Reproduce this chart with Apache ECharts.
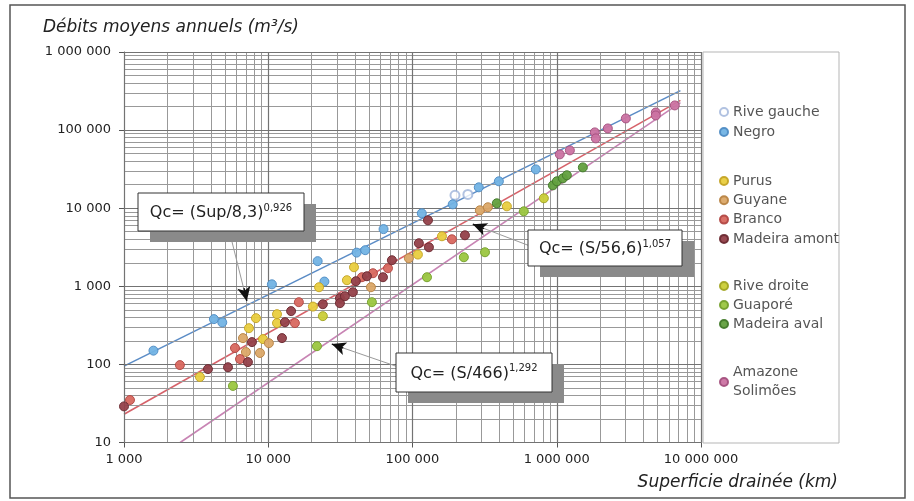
<!DOCTYPE html>
<html><head><meta charset="utf-8">
<script src="https://cdn.jsdelivr.net/npm/echarts@6/dist/echarts.min.js"></script>
<style>html,body{margin:0;padding:0;background:#fff}#c{width:914px;height:501px}</style>
</head><body><div id="c"></div>
<script>
// ---- Data (surface drained km², mean annual discharge m³/s) ----
const riveGauche = [[197000,14600],[242000,15000]];
const negro = [[1600,150],[4200,380],[4800,345],[10600,1060],[22000,2100],[24500,1150],[41000,2700],[47000,2900],[63000,5400],[116000,8600],[190000,11200],[288000,18500],[397000,22100],[716000,31400]];
const purus = [[3360,69],[7350,291],[8220,391],[9190,211],[11500,440],[11500,338],[20400,550],[22500,973],[35100,1197],[39300,1755],[109000,2550],[160000,4370],[451000,10570]];
const guyane = [[6680,217],[7000,144],[8760,140],[10100,187],[51500,973],[94400,2290],[293000,9400],[333000,10280]];
const branco = [[1100,35],[2440,98],[5880,162],[6370,117],[15300,338],[16300,626],[44600,1307],[53200,1470],[67600,1703],[187500,4000]];
const madeiraAmont = [[1000,29],[3820,87],[5260,92],[7230,107],[7710,193],[12450,217],[13050,347],[14400,481],[23900,590],[31400,704],[31400,608],[34000,747],[38600,841],[40500,1162],[48300,1346],[62400,1307],[72000,2157],[110700,3560],[130000,3160],[128000,7000],[231000,4500]];
const riveDroite = [[23900,415],[814000,13400]];
const guapore = [[5690,53],[21750,171],[52300,626],[126000,1307],[227000,2355],[318000,2730],[591000,9120]];
const madeiraAval = [[384000,11550],[940000,19600],[1002000,22100],[1102000,24100],[1175000,26400],[1517000,33300]];
const amazone = [[1050000,48900],[1233000,55000],[1836000,93500],[1866000,78300],[2260000,105000],[3013000,141000],[4860000,168000],[4860000,154000],[6580000,207000]];

// regression lines (end points)
const fitNegro = [[1000,95],[7200000,320000]];
const fitMain = [[1000,23],[7200000,240000]];
const fitDroite = [[2450,10],[7200000,225000]];

// axis ranges / ticks
const xDecades = [1000,10000,100000,1000000,10000000];
const yDecades = [10,100,1000,10000,100000,1000000];
const gridMultiples = [2,3,4,5,6,7,8,9];

// annotation texts
const formulas = [
  {main:'Qc= (Sup/8,3)', exp:'0,926'},
  {main:'Qc= (S/56,6)', exp:'1,057'},
  {main:'Qc= (S/466)', exp:'1,292'}
];
// arrow leader lines [start, near tip, tip] in data units
const arrows = [
  [[5400,4900],[6790,946],[7100,650]],
  [[631000,3360],[313000,5480],[262000,6230]],
  [[76700,95],[33100,162],[27600,182]]
];

const F = "'DejaVu Sans', 'Liberation Sans', sans-serif";
const fmt = v => String(Math.round(v)).replace(/\B(?=(\d{3})+(?!\d))/g, ' ');

const minorX = [], minorY = [];
xDecades.slice(0,-1).forEach(d => gridMultiples.forEach(m => minorX.push(d*m)));
yDecades.slice(0,-1).forEach(d => gridMultiples.forEach(m => minorY.push(d*m)));

function pts(name, data, color, border, symbol) {
  const s = {type:'scatter', name, data, symbol: symbol || 'circle', symbolSize: 9, z: 5,
    itemStyle: {color, borderColor: border, borderWidth: 1, opacity: 0.95}};
  if (symbol === 'emptyCircle') s.itemStyle = {color, borderWidth: 1.4};
  return s;
}
function fit(name, data, color) {
  return {type:'line', name, data, showSymbol:false, symbol:'none', z:4, silent:true,
    lineStyle:{color, width:1.6}};
}

const legendBase = {orient:'vertical', left:714, itemWidth:8, itemHeight:8, itemGap:4, selectedMode:false,
  textStyle:{fontFamily:F, fontSize:14, color:'#555', lineHeight:16}};

function box(x, y, w, h, f) {
  return {type:'group', z:50, children:[
    {type:'rect', shape:{x:x+12, y:y+11, width:w, height:h}, style:{fill:'#8a8a8a'}, z:50},
    {type:'rect', shape:{x:x, y:y, width:w, height:h}, style:{fill:'#fff', stroke:'#333', lineWidth:1}, z:51},
    {type:'text', x:x+w/2, y:y+h/2+1, z:52, style:{text:'{m|'+f.main+'}{s|'+f.exp+'}', align:'center', verticalAlign:'middle',
      rich:{m:{fontFamily:F, fontSize:16, lineHeight:20, fill:'#222'}, s:{fontFamily:F, fontSize:10, lineHeight:12, verticalAlign:'top', fill:'#222'}}}}
  ]};
}

const chart = echarts.init(document.getElementById('c'), null, {renderer:'canvas'});
chart.setOption({
  animation:false,
  backgroundColor:'#fff',
  grid:{left:124, top:52, width:577, height:390.5, containLabel:false},
  xAxis:{type:'log', logBase:10, min:1000, max:10000000,
    axisLine:{show:true, lineStyle:{color:'#555', width:1}},
    axisTick:{show:true, length:5, lineStyle:{color:'#555'}},
    splitLine:{show:false}, minorTick:{show:false},
    axisLabel:{formatter:fmt, fontFamily:F, fontSize:13, color:'#222', margin:11}},
  yAxis:{type:'log', logBase:10, min:10, max:1000000,
    axisLine:{show:true, lineStyle:{color:'#555', width:1}},
    axisTick:{show:true, length:5, lineStyle:{color:'#555'}},
    splitLine:{show:false},
    axisLabel:{formatter:fmt, fontFamily:F, fontSize:13, color:'#222', margin:13}},
  legend:[
    Object.assign({}, legendBase, {top:99, data:['Rive gauche','Negro']}),
    Object.assign({}, legendBase, {top:168, itemGap:3.3, data:['Purus','Guyane','Branco','Madeira amont']}),
    Object.assign({}, legendBase, {top:273, itemGap:3, data:['Rive droite','Guaporé','Madeira aval']}),
    Object.assign({}, legendBase, {top:358, data:['Amazone Solimões'],
      formatter: n => n.replace(' ', '\n'), textStyle:{fontFamily:F, fontSize:14, color:'#555', lineHeight:19}})
  ],
  graphic:[
    {type:'rect', z:1, shape:{x:10, y:5, width:895, height:493}, style:{fill:'none', stroke:'#555', lineWidth:1.5}},
    {type:'rect', z:1, shape:{x:703, y:52, width:136, height:391}, style:{fill:'none', stroke:'#b5b5b5', lineWidth:1}},
    {type:'text', z:5, x:43, y:28, style:{text:'Débits moyens annuels (m³/s)', font:'italic 17px '+F, fill:'#222', verticalAlign:'middle'}},
    {type:'text', z:5, x:838, y:483, style:{text:'Superficie drainée (km)', font:'italic 17px '+F, fill:'#222', align:'right', verticalAlign:'middle'}},
    box(138, 193, 166, 38, formulas[0]),
    box(528, 230, 154, 36, formulas[1]),
    box(396, 353, 156, 39, formulas[2])
  ],
  series:[
    {type:'line', data:[], silent:true, z:1, name:'gridMinor',
      markLine:{silent:true, symbol:['none','none'], animation:false, label:{show:false},
        lineStyle:{color:'#999999', width:1, type:'solid'},
        data: minorX.map(v => ({xAxis:v})).concat(minorY.map(v => ({yAxis:v})))}},
    {type:'line', data:[], silent:true, z:1, name:'gridMajor',
      markLine:{silent:true, symbol:['none','none'], animation:false, label:{show:false},
        lineStyle:{color:'#737373', width:1.2, type:'solid'},
        data: xDecades.map(v => ({xAxis:v})).concat(yDecades.map(v => ({yAxis:v})))}},
    {type:'line', data:[], silent:true, z:3, name:'leaders',
      markLine:{silent:true, symbol:['none','none'], animation:false, label:{show:false},
        lineStyle:{color:'#9a9a9a', width:1, type:'solid'},
        data: arrows.map(a => [{coord:a[0]},{coord:a[2]}])}},
    {type:'line', data:[], silent:true, z:6, name:'heads',
      markLine:{silent:true, symbol:['none','arrow'], symbolSize:[10,14], animation:false, label:{show:false},
        lineStyle:{color:'#111', width:1.5, type:'solid'},
        data: arrows.map(a => [{coord:a[1]},{coord:a[2]}])}},
    fit('fitNegro', fitNegro, '#5b8cc6'),
    fit('fitMain', fitMain, '#d6626a'),
    fit('fitDroite', fitDroite, '#c884b4'),
    pts('Rive gauche', riveGauche, '#9db3da', null, 'emptyCircle'),
    pts('Negro', negro, '#72b3e4', '#4f8cc4'),
    pts('Purus', purus, '#e9cd3f', '#c4a426'),
    pts('Guyane', guyane, '#dba868', '#b88444'),
    pts('Branco', branco, '#d8685f', '#b24845'),
    pts('Madeira amont', madeiraAmont, '#944049', '#6c2a32'),
    pts('Rive droite', riveDroite, '#cacd38', '#a2a524'),
    pts('Guaporé', guapore, '#9bc640', '#75a02c'),
    pts('Madeira aval', madeiraAval, '#62a03e', '#427a2a'),
    pts('Amazone Solimões', amazone, '#cb73a2', '#a4507e')
  ]
});
</script></body></html>
